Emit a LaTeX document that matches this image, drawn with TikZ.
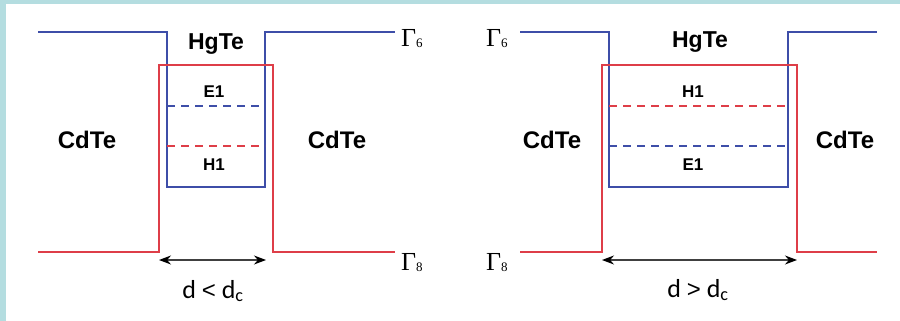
\documentclass[tikz,border=0pt]{standalone}
\usepackage{fontspec}
\setmainfont{Liberation Serif}
\setsansfont{Liberation Sans}
\newfontfamily\calib{Carlito}
\usetikzlibrary{arrows.meta}
\definecolor{bandblue}{RGB}{62,78,168}
\definecolor{bandred}{RGB}{222,62,72}
\definecolor{frameblue}{RGB}{180,221,224}
\newcommand{\gsub}[1]{\raisebox{-1pt}{\fontsize{13}{14}\selectfont #1}}
\newcommand{\relsym}[1]{{\sffamily\fontsize{24}{26}\selectfont #1}}
\tikzset{
  cband/.style={draw=bandblue, line width=2pt},
  vband/.style={draw=bandred, line width=2pt},
  cdash/.style={draw=bandblue, line width=2pt, dash pattern=on 8pt off 6pt},
  vdash/.style={draw=bandred, line width=2pt, dash pattern=on 8pt off 6pt},
  lbl/.style={font=\sffamily\bfseries\fontsize{24}{26}\selectfont, inner sep=0pt, anchor=base},
  hglbl/.style={font=\sffamily\bfseries\fontsize{23}{26}\selectfont, inner sep=0pt, anchor=base},
  sublbl/.style={font=\sffamily\bfseries\fontsize{17}{19}\selectfont, inner sep=0pt, anchor=base},
  gam/.style={font=\fontsize{26}{28}\selectfont, inner sep=0pt, anchor=base west},
  dlbl/.style={font=\calib\fontsize{26}{28}\selectfont, inner sep=0pt, anchor=base},
  dimarrow/.style={draw=black!75, line width=1.3pt, {Stealth[length=12pt,width=9pt,color=black]}-{Stealth[length=12pt,width=9pt,color=black]}}
}
\begin{document}
\begin{tikzpicture}[x=1pt,y=-1pt]
\fill[frameblue] (0,0) rectangle (900,321);
\fill[white] (6,4) rectangle (900,321);
\useasboundingbox (0,0) rectangle (900,321);

% ---------- left panel: d < dc ----------
\coordinate (l6a) at (38,32);
\coordinate (l6b) at (395,32);
\coordinate (l8a) at (38,252);
\coordinate (l8b) at (395,252);
\coordinate (lwl) at (167,187);
\coordinate (lwr) at (265,187);
\coordinate (lvl) at (159,65);
\coordinate (lvr) at (273,65);
\draw[cband] (l6a) -| (lwl) -- (lwr) |- (l6b);
\draw[vband] (l8a) -| (lvl) -- (lvr) |- (l8b);
\coordinate (le1a) at (167,106);
\coordinate (le1b) at (265,106);
\coordinate (lh1a) at (167,146);
\coordinate (lh1b) at (265,146);
\draw[cdash] (le1a) -- (le1b);
\draw[vdash] (lh1a) -- (lh1b);
\node[hglbl] (lhg) at (216,50) {HgTe};
\node[sublbl] (le1) at (214,97) {E1};
\node[sublbl] (lh1) at (214,170) {H1};
\node[lbl] (lcd1) at (87,148) {CdTe};
\node[lbl] (lcd2) at (337,148) {CdTe};
\node[gam] (lg6) at (401,47) {Γ\gsub{6}};
\node[gam] (lg8) at (401,270) {Γ\gsub{8}};
\coordinate (lda) at (159,260);
\coordinate (ldb) at (266,260);
\draw[dimarrow] (lda) -- (ldb);
\node[dlbl] (ldl) at (213,298) {d\ \relsym{<}\ d\textsubscript{c}};

% ---------- right panel: d > dc ----------
\coordinate (r6a) at (520,32);
\coordinate (r6b) at (877,32);
\coordinate (r8a) at (520,252);
\coordinate (r8b) at (877,252);
\coordinate (rwl) at (609,187);
\coordinate (rwr) at (788,187);
\coordinate (rvl) at (602,65);
\coordinate (rvr) at (797,65);
\draw[cband] (r6a) -| (rwl) -- (rwr) |- (r6b);
\draw[vband] (r8a) -| (rvl) -- (rvr) |- (r8b);
\coordinate (rh1a) at (609,106);
\coordinate (rh1b) at (788,106);
\coordinate (re1a) at (609,146);
\coordinate (re1b) at (788,146);
\draw[vdash] (rh1a) -- (rh1b);
\draw[cdash] (re1a) -- (re1b);
\node[hglbl] (rhg) at (700,48) {HgTe};
\node[sublbl] (rh1) at (693,97) {H1};
\node[sublbl] (re1) at (693,170) {E1};
\node[lbl] (rcd1) at (552,148) {CdTe};
\node[lbl] (rcd2) at (845,148) {CdTe};
\node[gam] (rg6) at (486,47) {Γ\gsub{6}};
\node[gam] (rg8) at (486,270) {Γ\gsub{8}};
\coordinate (rda) at (602,260);
\coordinate (rdb) at (797,260);
\draw[dimarrow] (rda) -- (rdb);
\node[dlbl] (rdl) at (698,297) {d\ \relsym{>}\ d\textsubscript{c}};
\end{tikzpicture}
\end{document}
